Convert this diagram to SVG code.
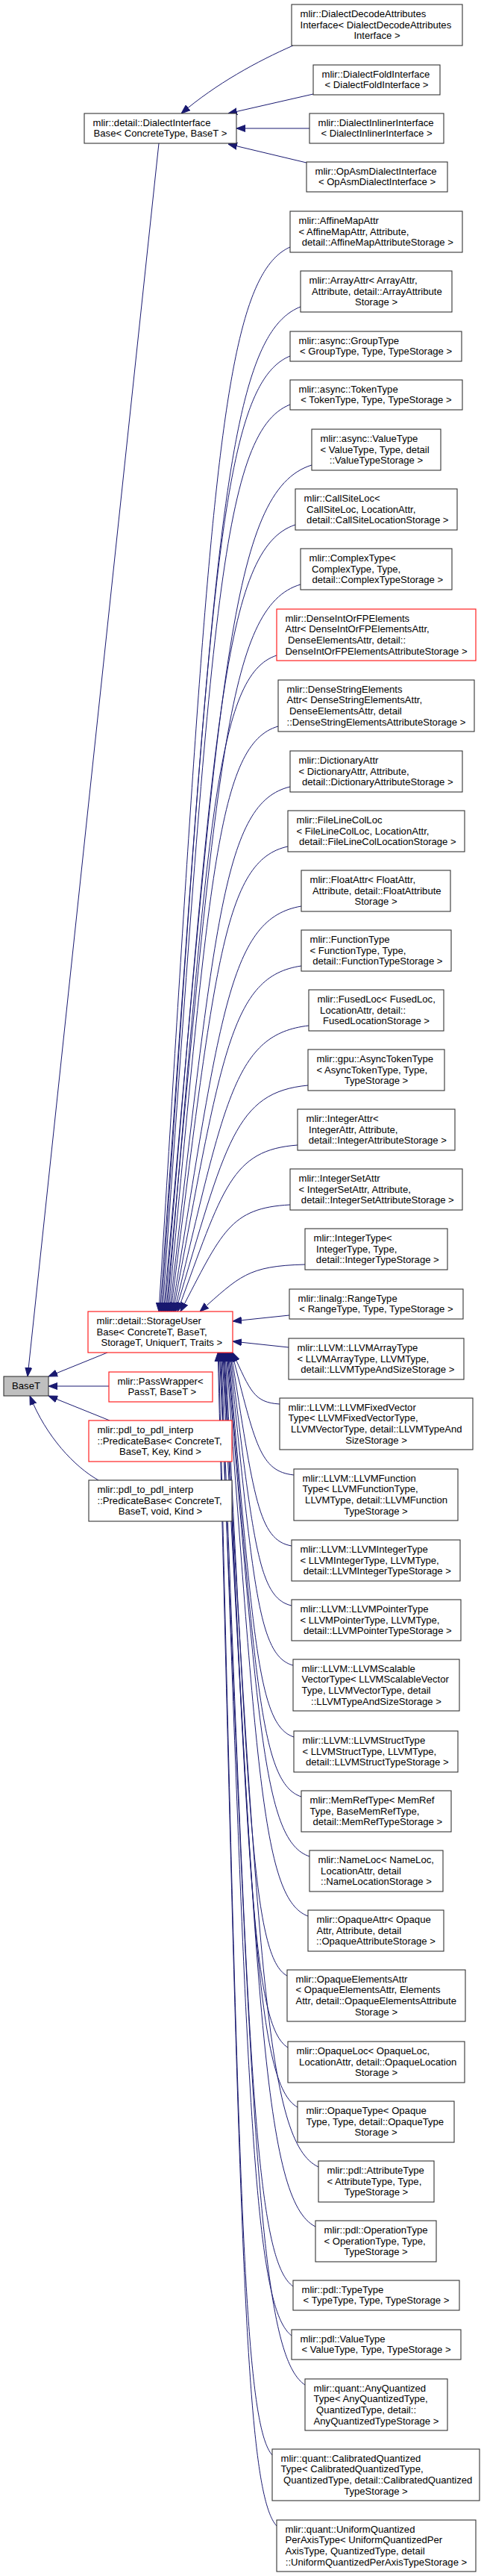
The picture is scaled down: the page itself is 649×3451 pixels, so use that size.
<svg xmlns="http://www.w3.org/2000/svg" width="649" height="3451" viewBox="0 0 649 3451">
<style>
.bg{fill:#ffffff}
.n rect{fill:#ffffff;stroke:#333333;stroke-width:1.1}
.r rect{fill:#ffffff;stroke:#ff2020;stroke-width:1.2}
.g rect{fill:#bfbfbf;stroke:#333333;stroke-width:1.1}
text{font-family:"Liberation Sans",Arial,Helvetica,sans-serif;font-size:13.1px;fill:#000000}
.c{text-anchor:middle}
.e path{fill:none;stroke:#191970;stroke-width:1;marker-end:url(#ah)}
</style>
<defs>
<marker id="ah" viewBox="0 0 12 10" refX="12" refY="5" markerWidth="12" markerHeight="10" markerUnits="userSpaceOnUse" orient="auto"><path d="M0,0.5 L12,5 L0,9.5 z" fill="#191970" stroke="#191970" stroke-width="1"/></marker>
</defs>
<rect class="bg" x="0" y="0" width="649" height="3451"/>
<g id="edges" class="e">
<path d="M393,61 C345,82 290,112 243,152"/>
<path d="M420,126 L306,152"/>
<path d="M415,172 L317,172"/>
<path d="M411,218 L306,193"/>
<path d="M213,192 L37,1844"/>
<path d="M144,1812 L65,1844"/>
<path d="M146,1857 L65,1857"/>
<path d="M147,1903 L65,1870"/>
<path d="M132,1983 C100,1965 62,1925 40,1870"/>
<path d="M389,331 C292.2,373.8 279.9,687.5 213,1757"/>
<path d="M403,411 C299.4,451.4 286.2,747.5 214.6,1757"/>
<path d="M389,477 C294,515.4 281.9,797 216.2,1757"/>
<path d="M389,542 C294.8,578.5 282.9,845.8 217.8,1757"/>
<path d="M418,623 C308.8,657 294.9,906.5 219.4,1757"/>
<path d="M396,703 C299.8,734.6 287.5,966.5 221,1757"/>
<path d="M403,783 C303.8,812.2 291.2,1026.5 222.6,1757"/>
<path d="M371,878 C290.3,904.4 280,1097.8 224.2,1757"/>
<path d="M373,973 C292,996.5 281.7,1169 225.8,1757"/>
<path d="M389,1054 C300.1,1075.1 288.8,1229.8 227.4,1757"/>
<path d="M386,1134 C299.7,1152.7 288.7,1289.8 229,1757"/>
<path d="M404,1214 C308.6,1230.3 296.5,1349.8 230.6,1757"/>
<path d="M404,1294 C309.5,1307.9 297.5,1409.8 232.2,1757"/>
<path d="M414,1374 C314.9,1385.5 302.3,1469.8 233.8,1757"/>
<path d="M413,1454 C315.3,1463.1 302.9,1529.8 235.4,1757"/>
<path d="M399,1534 C310.5,1540.7 299.2,1589.8 238,1757"/>
<path d="M389,1614 C308.2,1618.3 297.9,1649.8 242,1757"/>
<path d="M409,1694 C331.5,1695.9 321.6,1709.8 268,1757"/>
<path d="M388,1762 L312,1770"/>
<path d="M387,1805 L312,1797"/>
<path d="M375,1881 C340.4,1878.9 335.9,1863.8 312,1812"/>
<path d="M394,1976 C348.3,1971.1 342.5,1935 310.9,1812"/>
<path d="M391,2071 C346.3,2063.2 340.7,2006.3 309.8,1812"/>
<path d="M391,2151 C345.7,2140.8 340,2066.3 308.7,1812"/>
<path d="M393,2231 C346,2218.4 340.1,2126.3 307.6,1812"/>
<path d="M394,2327 C345.9,2311.6 339.8,2198.3 306.5,1812"/>
<path d="M404,2407 C349.8,2389.2 342.9,2258.3 305.4,1812"/>
<path d="M415,2487 C354.1,2466.8 346.4,2318.3 304.3,1812"/>
<path d="M413,2567 C352.6,2544.4 344.9,2378.3 303.2,1812"/>
<path d="M385,2647 C339.4,2622 333.6,2438.3 302.1,1812"/>
<path d="M386,2743 C339.3,2715.1 333.3,2510.3 301,1812"/>
<path d="M399,2823 C344.5,2792.7 337.6,2570.3 299.9,1812"/>
<path d="M427,2903 C356.5,2870.3 347.5,2630.3 298.8,1812"/>
<path d="M423,2983 C354.1,2947.9 345.3,2690.3 297.7,1812"/>
<path d="M393,3063 C340,3025.5 333.2,2750.3 296.6,1812"/>
<path d="M391,3129 C338.5,3089.5 331.8,2799.8 295.5,1812"/>
<path d="M409,3195 C346,3153.5 337.9,2849.3 294.4,1812"/>
<path d="M365,3289 C325.6,3244.7 320.5,2919.8 293.3,1812"/>
<path d="M371,3384 C327.7,3336.8 322.1,2991 292.2,1812"/>
</g>
<g id="n-BaseT" class="g"><rect x="5" y="1844" width="60" height="26"/><text class="c" x="35" y="1861">BaseT</text></g>
<g id="n-DialectInterfaceBase" class="n"><rect x="113" y="152" width="204" height="40"/><text x="124.5" y="168.6">mlir::detail::DialectInterface</text><text class="c" x="215" y="183.3">Base&lt; ConcreteType, BaseT &gt;</text></g>
<g id="n-StorageUserBase" class="r"><rect x="118" y="1757" width="194" height="55"/><text x="129.5" y="1773.8">mlir::detail::StorageUser</text><text x="129.5" y="1788.5">Base&lt; ConcreteT, BaseT,</text><text class="c" x="216.8" y="1803.1">StorageT, UniquerT, Traits &gt;</text></g>
<g id="n-PassWrapper" class="r"><rect x="146" y="1838" width="139" height="40"/><text x="157.5" y="1854.6">mlir::PassWrapper&lt;</text><text class="c" x="217.3" y="1869.3">PassT, BaseT &gt;</text></g>
<g id="n-PredicateBaseKey" class="r"><rect x="119" y="1903" width="192" height="55"/><text x="130.5" y="1919.8">mlir::pdl_to_pdl_interp</text><text x="130.5" y="1934.5">::PredicateBase&lt; ConcreteT,</text><text class="c" x="215" y="1949.1">BaseT, Key, Kind &gt;</text></g>
<g id="n-PredicateBaseVoid" class="n"><rect x="119" y="1983" width="192" height="55"/><text x="130.5" y="1999.8">mlir::pdl_to_pdl_interp</text><text x="130.5" y="2014.5">::PredicateBase&lt; ConcreteT,</text><text class="c" x="215" y="2029.1">BaseT, void, Kind &gt;</text></g>
<g id="n-DialectDecodeAttributesInterface" class="n"><rect x="391" y="6" width="229" height="55"/><text x="402.5" y="22.8">mlir::DialectDecodeAttributes</text><text x="402.5" y="37.5">Interface&lt; DialectDecodeAttributes</text><text class="c" x="505.5" y="52.1">Interface &gt;</text></g>
<g id="n-DialectFoldInterface" class="n"><rect x="420" y="87" width="170" height="40"/><text x="431.5" y="103.6">mlir::DialectFoldInterface</text><text class="c" x="505" y="118.3">&lt; DialectFoldInterface &gt;</text></g>
<g id="n-DialectInlinerInterface" class="n"><rect x="415" y="152" width="180" height="40"/><text x="426.5" y="168.6">mlir::DialectInlinerInterface</text><text class="c" x="505" y="183.3">&lt; DialectInlinerInterface &gt;</text></g>
<g id="n-OpAsmDialectInterface" class="n"><rect x="411" y="217" width="189" height="40"/><text x="422.5" y="233.6">mlir::OpAsmDialectInterface</text><text class="c" x="505.5" y="248.3">&lt; OpAsmDialectInterface &gt;</text></g>
<g id="n-AffineMapAttr" class="n"><rect x="389" y="283" width="231" height="55"/><text x="400.5" y="299.8">mlir::AffineMapAttr</text><text x="400.5" y="314.5">&lt; AffineMapAttr, Attribute,</text><text class="c" x="506.3" y="329.1">detail::AffineMapAttributeStorage &gt;</text></g>
<g id="n-ArrayAttr" class="n"><rect x="403" y="363" width="203" height="55"/><text x="414.5" y="379.8">mlir::ArrayAttr&lt; ArrayAttr,</text><text x="418.1" y="394.5">Attribute, detail::ArrayAttribute</text><text class="c" x="504.5" y="409.1">Storage &gt;</text></g>
<g id="n-GroupType" class="n"><rect x="389" y="444" width="230" height="40"/><text x="400.5" y="460.6">mlir::async::GroupType</text><text class="c" x="504" y="475.3">&lt; GroupType, Type, TypeStorage &gt;</text></g>
<g id="n-TokenType" class="n"><rect x="389" y="509" width="231" height="40"/><text x="400.5" y="525.6">mlir::async::TokenType</text><text class="c" x="504.5" y="540.3">&lt; TokenType, Type, TypeStorage &gt;</text></g>
<g id="n-AsyncValueType" class="n"><rect x="418" y="575" width="173" height="55"/><text x="429.5" y="591.8">mlir::async::ValueType</text><text x="429.5" y="606.5">&lt; ValueType, Type, detail</text><text class="c" x="504.5" y="621.1">::ValueTypeStorage &gt;</text></g>
<g id="n-CallSiteLoc" class="n"><rect x="396" y="655" width="217" height="55"/><text x="407.5" y="671.8">mlir::CallSiteLoc&lt;</text><text x="411.1" y="686.5">CallSiteLoc, LocationAttr,</text><text class="c" x="506.3" y="701.1">detail::CallSiteLocationStorage &gt;</text></g>
<g id="n-ComplexType" class="n"><rect x="403" y="735" width="203" height="55"/><text x="414.5" y="751.8">mlir::ComplexType&lt;</text><text x="418.1" y="766.5">ComplexType, Type,</text><text class="c" x="506.3" y="781.1">detail::ComplexTypeStorage &gt;</text></g>
<g id="n-DenseIntOrFPElementsAttr" class="r"><rect x="371" y="816" width="267" height="69"/><text x="382.5" y="832.5">mlir::DenseIntOrFPElements</text><text x="382.5" y="847.1">Attr&lt; DenseIntOrFPElementsAttr,</text><text x="386.1" y="861.8">DenseElementsAttr, detail::</text><text class="c" x="504.5" y="876.5">DenseIntOrFPElementsAttributeStorage &gt;</text></g>
<g id="n-DenseStringElementsAttr" class="n"><rect x="373" y="911" width="263" height="69"/><text x="384.5" y="927.5">mlir::DenseStringElements</text><text x="384.5" y="942.1">Attr&lt; DenseStringElementsAttr,</text><text x="388.1" y="956.8">DenseElementsAttr, detail</text><text class="c" x="504.5" y="971.5">::DenseStringElementsAttributeStorage &gt;</text></g>
<g id="n-DictionaryAttr" class="n"><rect x="389" y="1006" width="231" height="55"/><text x="400.5" y="1022.8">mlir::DictionaryAttr</text><text x="400.5" y="1037.5">&lt; DictionaryAttr, Attribute,</text><text class="c" x="506.3" y="1052.1">detail::DictionaryAttributeStorage &gt;</text></g>
<g id="n-FileLineColLoc" class="n"><rect x="386" y="1086" width="237" height="55"/><text x="397.5" y="1102.8">mlir::FileLineColLoc</text><text x="397.5" y="1117.5">&lt; FileLineColLoc, LocationAttr,</text><text class="c" x="506.3" y="1132.1">detail::FileLineColLocationStorage &gt;</text></g>
<g id="n-FloatAttr" class="n"><rect x="404" y="1166" width="200" height="55"/><text x="415.5" y="1182.8">mlir::FloatAttr&lt; FloatAttr,</text><text x="419.1" y="1197.5">Attribute, detail::FloatAttribute</text><text class="c" x="504" y="1212.1">Storage &gt;</text></g>
<g id="n-FunctionType" class="n"><rect x="404" y="1246" width="201" height="55"/><text x="415.5" y="1262.8">mlir::FunctionType</text><text x="415.5" y="1277.5">&lt; FunctionType, Type,</text><text class="c" x="506.3" y="1292.1">detail::FunctionTypeStorage &gt;</text></g>
<g id="n-FusedLoc" class="n"><rect x="414" y="1326" width="181" height="55"/><text x="425.5" y="1342.8">mlir::FusedLoc&lt; FusedLoc,</text><text x="429.1" y="1357.5">LocationAttr, detail::</text><text class="c" x="504.5" y="1372.1">FusedLocationStorage &gt;</text></g>
<g id="n-AsyncTokenType" class="n"><rect x="413" y="1406" width="183" height="55"/><text x="424.5" y="1422.8">mlir::gpu::AsyncTokenType</text><text x="424.5" y="1437.5">&lt; AsyncTokenType, Type,</text><text class="c" x="504.5" y="1452.1">TypeStorage &gt;</text></g>
<g id="n-IntegerAttr" class="n"><rect x="399" y="1486" width="211" height="55"/><text x="410.5" y="1502.8">mlir::IntegerAttr&lt;</text><text x="414.1" y="1517.5">IntegerAttr, Attribute,</text><text class="c" x="506.3" y="1532.1">detail::IntegerAttributeStorage &gt;</text></g>
<g id="n-IntegerSetAttr" class="n"><rect x="389" y="1566" width="231" height="55"/><text x="400.5" y="1582.8">mlir::IntegerSetAttr</text><text x="400.5" y="1597.5">&lt; IntegerSetAttr, Attribute,</text><text class="c" x="506.3" y="1612.1">detail::IntegerSetAttributeStorage &gt;</text></g>
<g id="n-IntegerType" class="n"><rect x="409" y="1646" width="191" height="55"/><text x="420.5" y="1662.8">mlir::IntegerType&lt;</text><text x="424.1" y="1677.5">IntegerType, Type,</text><text class="c" x="506.3" y="1692.1">detail::IntegerTypeStorage &gt;</text></g>
<g id="n-RangeType" class="n"><rect x="388" y="1727" width="233" height="40"/><text x="399.5" y="1743.6">mlir::linalg::RangeType</text><text class="c" x="504.5" y="1758.3">&lt; RangeType, Type, TypeStorage &gt;</text></g>
<g id="n-LLVMArrayType" class="n"><rect x="387" y="1793" width="235" height="55"/><text x="398.5" y="1809.8">mlir::LLVM::LLVMArrayType</text><text x="398.5" y="1824.5">&lt; LLVMArrayType, LLVMType,</text><text class="c" x="506.3" y="1839.1">detail::LLVMTypeAndSizeStorage &gt;</text></g>
<g id="n-LLVMFixedVectorType" class="n"><rect x="375" y="1873" width="259" height="69"/><text x="386.5" y="1889.5">mlir::LLVM::LLVMFixedVector</text><text x="386.5" y="1904.1">Type&lt; LLVMFixedVectorType,</text><text x="390.1" y="1918.8">LLVMVectorType, detail::LLVMTypeAnd</text><text class="c" x="504.5" y="1933.5">SizeStorage &gt;</text></g>
<g id="n-LLVMFunctionType" class="n"><rect x="394" y="1968" width="220" height="69"/><text x="405.5" y="1984.5">mlir::LLVM::LLVMFunction</text><text x="405.5" y="1999.1">Type&lt; LLVMFunctionType,</text><text x="409.1" y="2013.8">LLVMType, detail::LLVMFunction</text><text class="c" x="504" y="2028.5">TypeStorage &gt;</text></g>
<g id="n-LLVMIntegerType" class="n"><rect x="391" y="2063" width="226" height="55"/><text x="402.5" y="2079.8">mlir::LLVM::LLVMIntegerType</text><text x="402.5" y="2094.5">&lt; LLVMIntegerType, LLVMType,</text><text class="c" x="505.8" y="2109.1">detail::LLVMIntegerTypeStorage &gt;</text></g>
<g id="n-LLVMPointerType" class="n"><rect x="391" y="2143" width="227" height="55"/><text x="402.5" y="2159.8">mlir::LLVM::LLVMPointerType</text><text x="402.5" y="2174.5">&lt; LLVMPointerType, LLVMType,</text><text class="c" x="506.3" y="2189.1">detail::LLVMPointerTypeStorage &gt;</text></g>
<g id="n-LLVMScalableVectorType" class="n"><rect x="393" y="2223" width="223" height="69"/><text x="404.5" y="2239.5">mlir::LLVM::LLVMScalable</text><text x="404.5" y="2254.1">VectorType&lt; LLVMScalableVector</text><text x="404.5" y="2268.8">Type, LLVMVectorType, detail</text><text class="c" x="504.5" y="2283.5">::LLVMTypeAndSizeStorage &gt;</text></g>
<g id="n-LLVMStructType" class="n"><rect x="394" y="2319" width="220" height="55"/><text x="405.5" y="2335.8">mlir::LLVM::LLVMStructType</text><text x="405.5" y="2350.5">&lt; LLVMStructType, LLVMType,</text><text class="c" x="505.8" y="2365.1">detail::LLVMStructTypeStorage &gt;</text></g>
<g id="n-MemRefType" class="n"><rect x="404" y="2399" width="201" height="55"/><text x="415.5" y="2415.8">mlir::MemRefType&lt; MemRef</text><text x="415.5" y="2430.5">Type, BaseMemRefType,</text><text class="c" x="506.3" y="2445.1">detail::MemRefTypeStorage &gt;</text></g>
<g id="n-NameLoc" class="n"><rect x="415" y="2479" width="179" height="55"/><text x="426.5" y="2495.8">mlir::NameLoc&lt; NameLoc,</text><text x="430.1" y="2510.5">LocationAttr, detail</text><text class="c" x="504.5" y="2525.1">::NameLocationStorage &gt;</text></g>
<g id="n-OpaqueAttr" class="n"><rect x="413" y="2559" width="182" height="55"/><text x="424.5" y="2575.8">mlir::OpaqueAttr&lt; Opaque</text><text x="424.5" y="2590.5">Attr, Attribute, detail</text><text class="c" x="504" y="2605.1">::OpaqueAttributeStorage &gt;</text></g>
<g id="n-OpaqueElementsAttr" class="n"><rect x="385" y="2639" width="239" height="69"/><text x="396.5" y="2655.5">mlir::OpaqueElementsAttr</text><text x="396.5" y="2670.1">&lt; OpaqueElementsAttr, Elements</text><text x="396.5" y="2684.8">Attr, detail::OpaqueElementsAttribute</text><text class="c" x="504.5" y="2699.5">Storage &gt;</text></g>
<g id="n-OpaqueLoc" class="n"><rect x="386" y="2735" width="237" height="55"/><text x="397.5" y="2751.8">mlir::OpaqueLoc&lt; OpaqueLoc,</text><text x="401.1" y="2766.5">LocationAttr, detail::OpaqueLocation</text><text class="c" x="504.5" y="2781.1">Storage &gt;</text></g>
<g id="n-OpaqueType" class="n"><rect x="399" y="2815" width="210" height="55"/><text x="410.5" y="2831.8">mlir::OpaqueType&lt; Opaque</text><text x="410.5" y="2846.5">Type, Type, detail::OpaqueType</text><text class="c" x="504" y="2861.1">Storage &gt;</text></g>
<g id="n-PdlAttributeType" class="n"><rect x="427" y="2895" width="155" height="55"/><text x="438.5" y="2911.8">mlir::pdl::AttributeType</text><text x="438.5" y="2926.5">&lt; AttributeType, Type,</text><text class="c" x="504.5" y="2941.1">TypeStorage &gt;</text></g>
<g id="n-PdlOperationType" class="n"><rect x="423" y="2975" width="162" height="55"/><text x="434.5" y="2991.8">mlir::pdl::OperationType</text><text x="434.5" y="3006.5">&lt; OperationType, Type,</text><text class="c" x="504" y="3021.1">TypeStorage &gt;</text></g>
<g id="n-PdlTypeType" class="n"><rect x="393" y="3055" width="223" height="40"/><text x="404.5" y="3071.6">mlir::pdl::TypeType</text><text class="c" x="504.5" y="3086.3">&lt; TypeType, Type, TypeStorage &gt;</text></g>
<g id="n-PdlValueType" class="n"><rect x="391" y="3121" width="227" height="40"/><text x="402.5" y="3137.6">mlir::pdl::ValueType</text><text class="c" x="504.5" y="3152.3">&lt; ValueType, Type, TypeStorage &gt;</text></g>
<g id="n-AnyQuantizedType" class="n"><rect x="409" y="3187" width="191" height="69"/><text x="420.5" y="3203.5">mlir::quant::AnyQuantized</text><text x="420.5" y="3218.1">Type&lt; AnyQuantizedType,</text><text x="424.1" y="3232.8">QuantizedType, detail::</text><text class="c" x="504.5" y="3247.5">AnyQuantizedTypeStorage &gt;</text></g>
<g id="n-CalibratedQuantizedType" class="n"><rect x="365" y="3281" width="278" height="69"/><text x="376.5" y="3297.5">mlir::quant::CalibratedQuantized</text><text x="376.5" y="3312.1">Type&lt; CalibratedQuantizedType,</text><text x="380.1" y="3326.8">QuantizedType, detail::CalibratedQuantized</text><text class="c" x="504" y="3341.5">TypeStorage &gt;</text></g>
<g id="n-UniformQuantizedPerAxisType" class="n"><rect x="371" y="3376" width="267" height="69"/><text x="382.5" y="3392.5">mlir::quant::UniformQuantized</text><text x="382.5" y="3407.1">PerAxisType&lt; UniformQuantizedPer</text><text x="382.5" y="3421.8">AxisType, QuantizedType, detail</text><text class="c" x="504.5" y="3436.5">::UniformQuantizedPerAxisTypeStorage &gt;</text></g>
</svg>
